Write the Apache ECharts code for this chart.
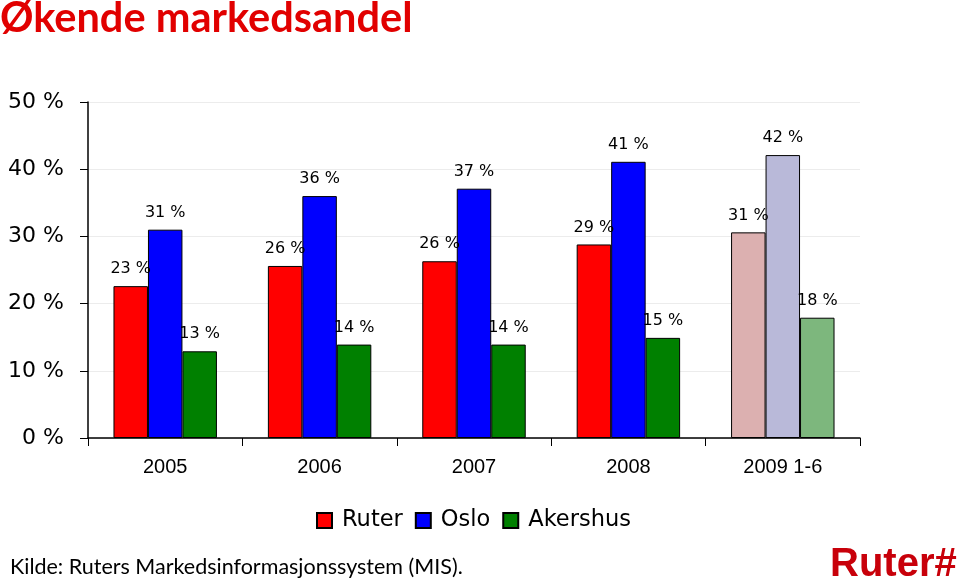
<!DOCTYPE html>
<html><head><meta charset="utf-8">
<script src="https://cdn.jsdelivr.net/npm/echarts@6/dist/echarts.min.js"></script>
<style>html,body{margin:0;padding:0;background:#fff}#c{width:960px;height:581px}</style>
</head><body><div id="c"></div>
<script>
const categories = ['2005', '2006', '2007', '2008', '2009 1-6'];
const ruter = [22.6, 25.6, 26.3, 28.8, 30.6];
const oslo = [31.0, 36.0, 37.1, 41.1, 42.1];
const akershus = [12.9, 13.9, 13.9, 14.9, 17.9];
const yTicks = [0, 10, 20, 30, 40, 50];

const seriesDefs = [
  {name: 'Ruter', data: ruter, color: '#ff0000', pale: '#dcb0b0'},
  {name: 'Oslo', data: oslo, color: '#0000ff', pale: '#b9b9d9'},
  {name: 'Akershus', data: akershus, color: '#008000', pale: '#7db77d'}
];
const F = '"DejaVu Sans", sans-serif';

const chart = echarts.init(document.getElementById('c'));
chart.setOption({
  animation: false,
  textStyle: {fontFamily: F},
  grid: {left: 88, right: 100, top: 102, bottom: 143},
  legend: {
    data: seriesDefs.map(s => s.name),
    left: 311, top: 504, itemWidth: 15, itemHeight: 15, itemGap: 12,
    textStyle: {fontSize: 22.5, color: '#000', fontFamily: F, padding: [0, 0, 0, 5]},
    icon: 'rect'
  },
  xAxis: {
    type: 'category', data: categories,
    axisLine: {lineStyle: {color: '#000', width: 1.5}},
    axisTick: {show: true, length: 8, lineStyle: {color: '#000'}},
    axisLabel: {fontSize: 20, color: '#000', margin: 19, fontFamily: '"Liberation Sans", Arial, sans-serif'}
  },
  yAxis: {
    type: 'value', min: yTicks[0], max: yTicks[yTicks.length - 1], interval: 10,
    axisLine: {show: true, lineStyle: {color: '#000', width: 1.5}},
    axisTick: {show: true, length: 8, lineStyle: {color: '#000'}},
    axisLabel: {fontSize: 22, color: '#000', margin: 24, formatter: v => v + ' %'},
    splitLine: {lineStyle: {color: '#ececec'}}
  },
  series: seriesDefs.map(s => ({
    name: s.name, type: 'bar', barGap: '0%', barCategoryGap: '33%',
    itemStyle: {color: s.color, borderColor: '#000', borderWidth: 1},
    label: {show: true, position: 'top', distance: 9, fontSize: 16, color: '#000', fontFamily: F,
      formatter: p => Math.round(p.value) + ' %'},
    data: s.data.map((v, i) => i === 4 ? {value: v, itemStyle: {color: s.pale, borderColor: '#000', borderWidth: 1}} : v)
  })),
  graphic: [
    {type: 'text', left: 0, top: -2, style: {text: 'Økende markedsandel', fill: '#e10000', font: 'bold 41.5px Lato, "Open Sans", sans-serif'}},
    {type: 'text', left: 10, top: 556, style: {text: 'Kilde: Ruters Markedsinformasjonssystem (MIS).', fill: '#000', font: '21.5px Lato, "Open Sans", sans-serif'}},
    {type: 'text', left: 830, top: 545, style: {text: 'Ruter#', fill: '#c8000a', font: 'bold 40px "Liberation Sans", Arial, sans-serif'}}
  ]
});
</script></body></html>
